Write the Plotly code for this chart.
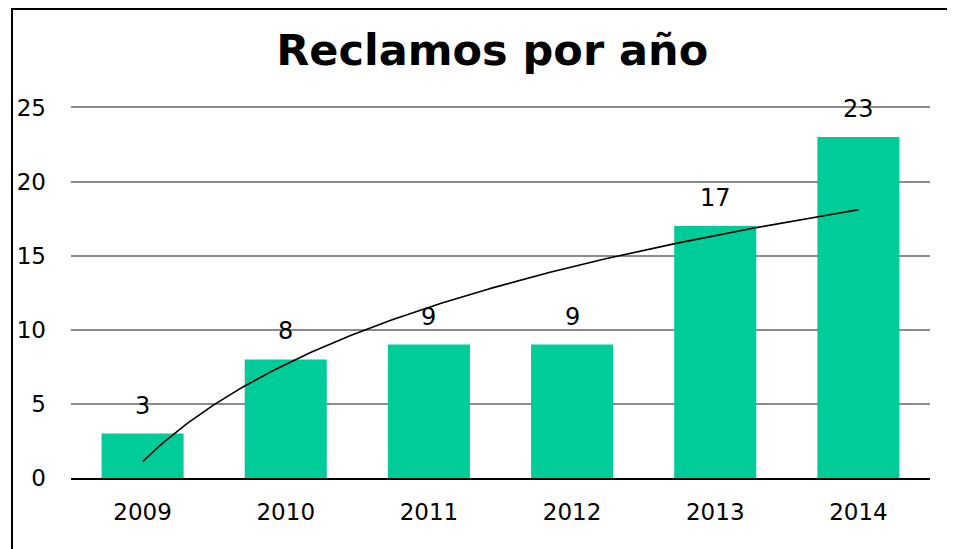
import numpy as np
import plotly.graph_objects as go

years = ["2009", "2010", "2011", "2012", "2013", "2014"]
reclamos = [3, 8, 9, 9, 17, 23]
y_ticks = [0, 5, 10, 15, 20, 25]

idx = np.arange(len(years))
# logarithmic trendline (least squares on ln(x), x = 1..n)
lx = np.log(idx + 1)
b, a = np.polyfit(lx, reclamos, 1)
xs = np.linspace(0, len(years) - 1, 200)
ys = a + b * np.log(xs + 1)

font_family = "DejaVu Sans, Verdana, sans-serif"

fig = go.Figure()
fig.add_trace(go.Bar(x=idx, y=reclamos, marker=dict(color="#00CC99", line=dict(width=0)),
                     width=0.573, hoverinfo="skip"))
fig.add_trace(go.Scatter(x=xs, y=ys, mode="lines", line=dict(color="black", width=1.6),
                         hoverinfo="skip"))

for i, v in zip(idx, reclamos):
    fig.add_annotation(x=i, y=v, text=str(v), showarrow=False, yshift=28,
                       font=dict(size=24, color="black", family=font_family))

fig.update_layout(
    width=955, height=549,
    paper_bgcolor="white", plot_bgcolor="white",
    showlegend=False,
    margin=dict(l=63, r=33, t=95, b=79, autoexpand=False),
    title=dict(text="<b>Reclamos por año</b>", x=0.507, xanchor="center", y=0.9235, yanchor="middle",
               xref="container", yref="container",
               font=dict(size=43, color="black", family=font_family)),
    xaxis=dict(range=[-0.5, 5.5], tickvals=list(idx), ticktext=years, showgrid=False,
               showline=True, linecolor="black", linewidth=2, ticks="", zeroline=False,
               ticklabelstandoff=12,
               tickfont=dict(size=23, color="black", family=font_family)),
    yaxis=dict(range=[0, 25.3], tickvals=y_ticks, showgrid=True, gridcolor="#8c8c8c", gridwidth=1.5,
               zeroline=False, showline=False, ticks="", ticklabelstandoff=24,
               tickfont=dict(size=23, color="black", family=font_family)),
    shapes=[dict(type="rect", xref="paper", yref="paper", x0=-0.0687, x1=1.2, y0=-0.3, y1=1.2507,
                 line=dict(color="black", width=2), layer="above")],
)
fig.write_html("out.html")
